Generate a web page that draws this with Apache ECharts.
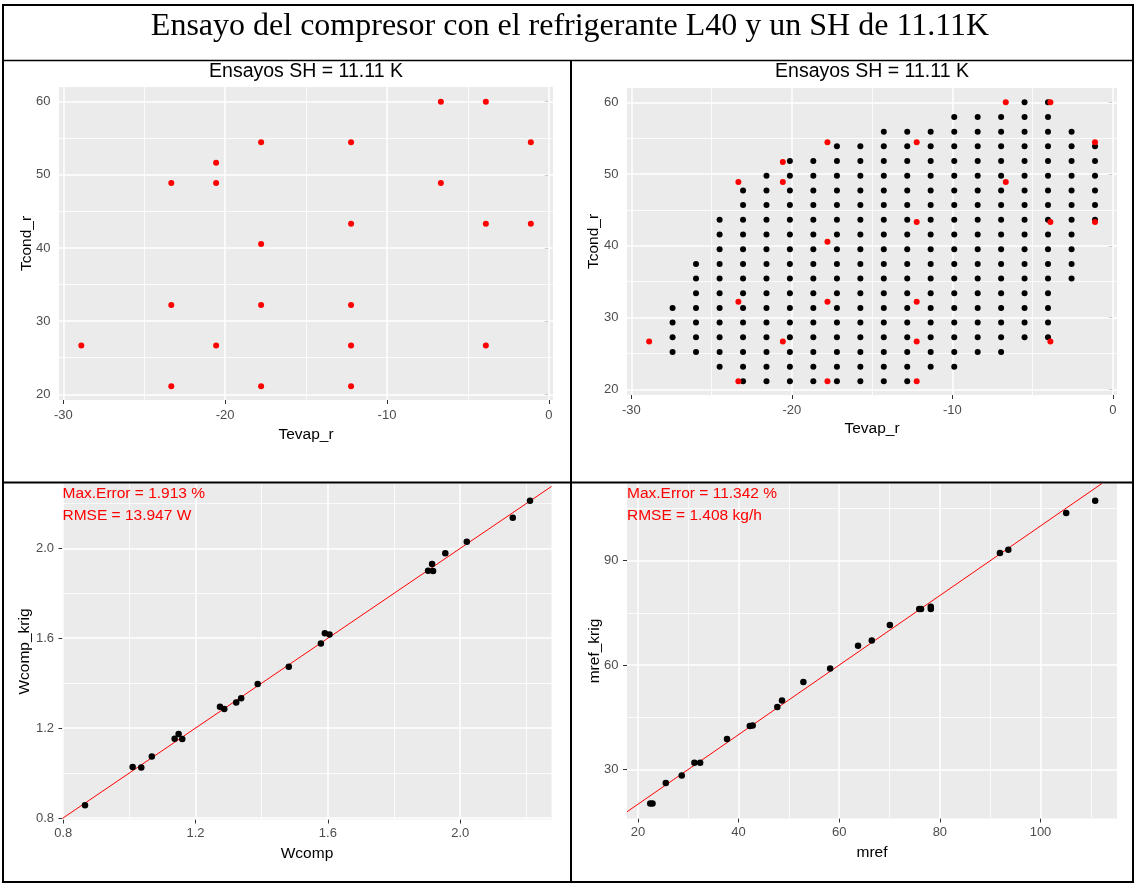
<!DOCTYPE html>
<html>
<head>
<meta charset="utf-8">
<script src="https://cdn.jsdelivr.net/npm/echarts@6/dist/echarts.min.js"></script>
<style>
html,body{margin:0;padding:0;background:#fff;}
#chart{width:1137px;height:884px;}
</style>
</head>
<body>
<div id="chart"></div>
<script>
// ---------- DATA ----------
const mainTitle = "Ensayo del compresor con el refrigerante L40 y un SH de 11.11K";
const panelTitle = "Ensayos SH = 11.11 K";

// Test points (top panels, red)
const testTevap = [-6.67, -3.89, -17.78, -12.22, -1.11, -20.56, -23.33, -20.56, -6.67, -12.22, -3.89, -1.11, -17.78, -23.33, -17.78, -12.22, -28.89, -20.56, -12.22, -3.89, -23.33, -17.78, -12.22];
const testTcond = [60, 60, 54.44, 54.44, 54.44, 51.67, 48.89, 48.89, 48.89, 43.33, 43.33, 43.33, 40.56, 32.22, 32.22, 32.22, 26.67, 26.67, 26.67, 26.67, 21.11, 21.11, 21.11];

// Kriging grid (top-right, black): column / row values and occupied column span per row
const gridTevap = [-28.89, -27.43, -25.97, -24.50, -23.04, -21.58, -20.12, -18.66, -17.19, -15.73, -14.27, -12.81, -11.35, -9.88, -8.42, -6.96, -5.50, -4.04, -2.57, -1.11];
const gridTcond = [21.11, 23.16, 25.20, 27.25, 29.30, 31.34, 33.39, 35.44, 37.48, 39.53, 41.58, 43.62, 45.67, 47.72, 49.76, 51.81, 53.86, 55.90, 57.95, 60.00];
const rowFirstCol = [4, 3, 1, 1, 1, 1, 2, 2, 2, 3, 3, 3, 4, 4, 5, 6, 8, 10, 13, 16];
const rowLastCol  = [11, 13, 15, 17, 17, 17, 17, 18, 18, 18, 18, 19, 19, 19, 19, 19, 19, 18, 17, 17];

// Bottom-left: Wcomp vs Wcomp_krig
const wcomp     = [0.866, 1.010, 1.036, 1.068, 1.137, 1.149, 1.160, 1.274, 1.287, 1.323, 1.338, 1.388, 1.482, 1.579, 1.591, 1.605, 1.903, 1.915, 1.918, 1.955, 2.020, 2.159, 2.211];
const wcompKrig = [0.856, 1.027, 1.025, 1.073, 1.152, 1.174, 1.151, 1.295, 1.285, 1.314, 1.333, 1.396, 1.473, 1.577, 1.622, 1.617, 1.901, 1.931, 1.899, 1.978, 2.030, 2.137, 2.212];

// Bottom-right: mref vs mref_krig
const mref     = [22.45, 22.9, 25.54, 28.71, 31.22, 32.37, 37.70, 42.23, 42.81, 47.70, 48.63, 52.88, 58.20, 63.74, 66.47, 70.07, 75.90, 76.26, 78.20, 78.20, 91.94, 93.60, 105.1, 110.86];
const mrefKrig = [20.2, 20.2, 26.07, 28.27, 31.92, 31.92, 38.72, 42.46, 42.65, 47.92, 49.84, 55.11, 59.04, 65.56, 67.09, 71.50, 76.10, 76.10, 76.77, 76.10, 92.21, 93.17, 103.71, 107.26];

// Annotations
const wcompNotes = ["Max.Error = 1.913 %", "RMSE = 13.947 W"];
const mrefNotes  = ["Max.Error = 11.342 %", "RMSE = 1.408 kg/h"];

// Axis ranges and ticks
const topXRange = [-30.27, 0.26];
const topLeftYRange = [19.22, 62.01];
const topRightYRange = [19.21, 61.99];
const topXMajor = [-30, -20, -10, 0];
const topXMinor = [-25, -15, -5];
const topYMajor = [20, 30, 40, 50, 60];
const topYMinor = [25, 35, 45, 55];

const wXRange = [0.798, 2.276];
const wYRange = [0.793, 2.289];
const wMajor = [0.8, 1.2, 1.6, 2.0];
const wMinor = [1.0, 1.4, 1.8, 2.2];

const mXRange = [17.83, 115.2];
const mYRange = [15.9, 112.2];
const mXMajor = [20, 40, 60, 80, 100];
const mXMinor = [30, 50, 70, 90, 110];
const mYMajor = [30, 60, 90];
const mYMinor = [45, 75, 105];

// ---------- BUILD ----------
const FONT = "'Liberation Sans', Arial, sans-serif";
const zip = (a, b) => a.map((v, i) => [v, b[i]]);

const gridPts = [];
for (let r = 0; r < gridTcond.length; r++) {
  for (let c = rowFirstCol[r]; c <= rowLastCol[r]; c++) gridPts.push([gridTevap[c], gridTcond[r]]);
}

function gridLineData(xMaj, xMin, yMaj, yMin) {
  const maj = {color: '#ffffff', width: 1.5, type: 'solid'};
  const min = {color: '#ffffff', width: 0.8, type: 'solid'};
  const d = [];
  xMin.forEach(v => d.push({xAxis: v, lineStyle: min}));
  yMin.forEach(v => d.push({yAxis: v, lineStyle: min}));
  xMaj.forEach(v => d.push({xAxis: v, lineStyle: maj}));
  yMaj.forEach(v => d.push({yAxis: v, lineStyle: maj}));
  return d;
}
function markLines(xMaj, xMin, yMaj, yMin) {
  return {
    silent: true, z: 1, animation: false, symbol: ['none', 'none'],
    label: {show: false}, emphasis: {disabled: true},
    data: gridLineData(xMaj, xMin, yMaj, yMin)
  };
}

function axisCfg(gi, range, vals, name, nameGap, margin, fmt) {
  return {
    gridIndex: gi, type: 'value', min: range[0], max: range[1],
    axisLine: {show: false},
    axisTick: {show: true, customValues: vals, length: 4, lineStyle: {color: '#333333', width: 1}},
    axisLabel: {customValues: vals, color: '#4d4d4d', fontSize: 13, fontFamily: FONT, margin: margin,
      formatter: fmt || (v => String(v))},
    splitLine: {show: false},
    name: name, nameLocation: 'middle', nameGap: nameGap, nameMoveOverlap: false,
    nameTextStyle: {color: '#000', fontSize: 15.5, fontFamily: FONT}
  };
}
const f1 = v => v.toFixed(1);

const grids = [
  {left: 59, top: 87, width: 494, height: 313},
  {left: 627, top: 88, width: 490, height: 307},
  {left: 62.5, top: 483.5, width: 489, height: 336},
  {left: 627, top: 483.5, width: 490, height: 335}
].map(g => Object.assign({show: true, backgroundColor: '#ebebeb', borderWidth: 0, containLabel: false}, g));

const ablineW = [Math.max(wXRange[0], wYRange[0]), Math.min(wXRange[1], wYRange[1])];
const ablineM = [Math.max(mXRange[0], mYRange[0]), Math.min(mXRange[1], mYRange[1])];

const red = {color: '#ff0000', opacity: 1};
const black = {color: '#000000', opacity: 1};

const option = {
  animation: false,
  textStyle: {fontFamily: FONT},
  grid: grids,
  xAxis: [
    axisCfg(0, topXRange, topXMajor, 'Tevap_r', 27, 8.5),
    axisCfg(1, topXRange, topXMajor, 'Tevap_r', 26, 8.5),
    axisCfg(2, wXRange, wMajor, 'Wcomp', 26, 7.5, f1),
    axisCfg(3, mXRange, mXMajor, 'mref', 26, 7.5)
  ],
  yAxis: [
    axisCfg(0, topLeftYRange, topYMajor, 'Tcond_r', 24, 8.5),
    axisCfg(1, topRightYRange, topYMajor, 'Tcond_r', 25, 8.5),
    axisCfg(2, wYRange, wMajor, 'Wcomp_krig', 30, 8.5, f1),
    axisCfg(3, mYRange, mYMajor, 'mref_krig', 24, 8.5)
  ],
  series: [
    {type: 'scatter', xAxisIndex: 0, yAxisIndex: 0, z: 3, silent: true, symbolSize: 6,
     itemStyle: red, data: zip(testTevap, testTcond),
     markLine: markLines(topXMajor, topXMinor, topYMajor, topYMinor)},
    {type: 'scatter', xAxisIndex: 1, yAxisIndex: 1, z: 3, silent: true, symbolSize: 6,
     itemStyle: black, data: gridPts,
     markLine: markLines(topXMajor, topXMinor, topYMajor, topYMinor)},
    {type: 'scatter', xAxisIndex: 1, yAxisIndex: 1, z: 4, silent: true, symbolSize: 6,
     itemStyle: red, data: zip(testTevap, testTcond)},
    {type: 'line', xAxisIndex: 2, yAxisIndex: 2, z: 2, silent: true, showSymbol: false, symbol: 'none',
     lineStyle: {color: '#ff0000', width: 1}, data: [[ablineW[0], ablineW[0]], [ablineW[1], ablineW[1]]]},
    {type: 'scatter', xAxisIndex: 2, yAxisIndex: 2, z: 3, silent: true, symbolSize: 6.5,
     itemStyle: black, data: zip(wcomp, wcompKrig),
     markLine: markLines(wMajor, wMinor, wMajor, wMinor)},
    {type: 'line', xAxisIndex: 3, yAxisIndex: 3, z: 2, silent: true, showSymbol: false, symbol: 'none',
     lineStyle: {color: '#ff0000', width: 1}, data: [[ablineM[0], ablineM[0]], [ablineM[1], ablineM[1]]]},
    {type: 'scatter', xAxisIndex: 3, yAxisIndex: 3, z: 3, silent: true, symbolSize: 6.5,
     itemStyle: black, data: zip(mref, mrefKrig),
     markLine: markLines(mXMajor, mXMinor, mYMajor, mYMinor)}
  ],
  graphic: [
    // table borders
    {type: 'rect', silent: true, z: 100, shape: {x: 3, y: 5, width: 1130, height: 877},
     style: {fill: null, stroke: '#000', lineWidth: 2}},
    {type: 'line', silent: true, z: 100, shape: {x1: 3, y1: 60.5, x2: 1133, y2: 60.5}, style: {stroke: '#000', lineWidth: 1.3}},
    {type: 'line', silent: true, z: 100, shape: {x1: 3, y1: 482.5, x2: 1133, y2: 482.5}, style: {stroke: '#000', lineWidth: 2}},
    {type: 'line', silent: true, z: 100, shape: {x1: 571, y1: 60, x2: 571, y2: 882}, style: {stroke: '#000', lineWidth: 2}},
    // titles
    {type: 'text', silent: true, z: 100, x: 570, y: 27,
     style: {text: mainTitle, font: "32px 'Liberation Serif', 'Times New Roman', serif", fill: '#000', textAlign: 'center', textVerticalAlign: 'middle'}},
    {type: 'text', silent: true, z: 100, x: 306, y: 72,
     style: {text: panelTitle, font: "19.5px " + FONT, fill: '#000', textAlign: 'center', textVerticalAlign: 'middle'}},
    {type: 'text', silent: true, z: 100, x: 872, y: 72,
     style: {text: panelTitle, font: "19.5px " + FONT, fill: '#000', textAlign: 'center', textVerticalAlign: 'middle'}},
    // annotations
    {type: 'text', silent: true, z: 100, x: 62.5, y: 494,
     style: {text: wcompNotes[0], font: "15.5px " + FONT, fill: '#ff0000', textAlign: 'left', textVerticalAlign: 'middle'}},
    {type: 'text', silent: true, z: 100, x: 62.5, y: 516,
     style: {text: wcompNotes[1], font: "15.5px " + FONT, fill: '#ff0000', textAlign: 'left', textVerticalAlign: 'middle'}},
    {type: 'text', silent: true, z: 100, x: 627, y: 494,
     style: {text: mrefNotes[0], font: "15.5px " + FONT, fill: '#ff0000', textAlign: 'left', textVerticalAlign: 'middle'}},
    {type: 'text', silent: true, z: 100, x: 627, y: 516,
     style: {text: mrefNotes[1], font: "15.5px " + FONT, fill: '#ff0000', textAlign: 'left', textVerticalAlign: 'middle'}}
  ]
};

const chart = echarts.init(document.getElementById('chart'), null, {renderer: 'canvas'});
chart.setOption(option);
</script>
</body>
</html>
